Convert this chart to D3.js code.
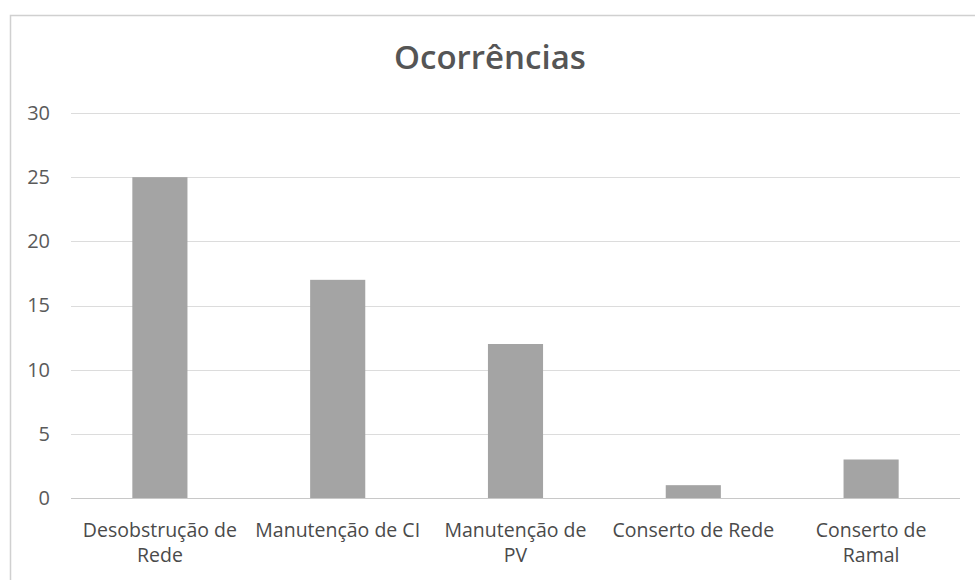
<!DOCTYPE html>
<html>
<head>
<meta charset="utf-8">
<script src="https://cdn.jsdelivr.net/npm/d3@7"></script>
<style>
  body { margin: 0; background: #fff; }
  text { font-family: "Open Sans", "Noto Sans", sans-serif; }
</style>
</head>
<body>
<div id="chart"></div>
<script>
// chart values
const categories = [
  ["Desobstrução de", "Rede"],
  ["Manutenção de CI"],
  ["Manutenção de", "PV"],
  ["Conserto de Rede"],
  ["Conserto de", "Ramal"]
];
const values = [25, 17, 12, 1, 3];
const yTicks = [0, 5, 10, 15, 20, 25, 30];
const title = "Ocorrências";

const width = 975, height = 580;
const margin = { top: 113, right: 15, bottom: 82, left: 71 };

const svg = d3.select("#chart").append("svg")
  .attr("width", width)
  .attr("height", height);

// frame of the chart area
svg.append("path")
  .attr("d", "M10.5," + height + "V15.5H" + width)
  .attr("fill", "none")
  .attr("stroke", "#d0d0d0")
  .attr("stroke-width", 1.5);

const g = svg.append("g")
  .attr("transform", "translate(" + margin.left + "," + margin.top + ")");

const w = width - margin.left - margin.right;
const h = height - margin.top - margin.bottom;

const x = d3.scaleBand()
  .domain(d3.range(categories.length))
  .range([0, w])
  .paddingInner(0.69)
  .paddingOuter(0.345);

const y = d3.scaleLinear()
  .domain([0, 30])
  .range([h, 0]);

// gridlines
g.selectAll(".grid")
  .data(yTicks)
  .enter().append("line")
  .attr("class", "grid")
  .attr("x1", 0)
  .attr("x2", w)
  .attr("y1", d => Math.round(y(d)) + 0.5)
  .attr("y2", d => Math.round(y(d)) + 0.5)
  .attr("stroke", d => d === 0 ? "#c8c8c8" : "#dcdcdc")
  .attr("stroke-width", 1.2);

// y labels
const yAxis = d3.axisLeft(y).tickValues(yTicks).tickSize(0).tickPadding(21);
g.append("g")
  .call(yAxis)
  .call(s => s.select(".domain").remove())
  .selectAll("text")
  .attr("fill", "#5a5a5a")
  .style("font-size", "20px");

// bars
g.selectAll(".bar")
  .data(values)
  .enter().append("rect")
  .attr("class", "bar")
  .attr("x", (d, i) => x(i))
  .attr("y", d => y(d))
  .attr("width", x.bandwidth())
  .attr("height", d => y(0) - y(d))
  .attr("fill", "#a4a4a4");

// category labels
const labels = g.selectAll(".cat")
  .data(categories)
  .enter().append("text")
  .attr("class", "cat")
  .attr("text-anchor", "middle")
  .attr("fill", "#4a4a4a")
  .style("font-size", "19.5px")
  .attr("transform", (d, i) => "translate(" + (x(i) + x.bandwidth() / 2) + "," + (h + 39) + ")");

labels.selectAll("tspan")
  .data(d => d)
  .enter().append("tspan")
  .attr("x", 0)
  .attr("dy", (d, i) => i === 0 ? 0 : 25)
  .text(d => d);

// title
svg.append("text")
  .attr("x", 490)
  .attr("y", 69)
  .attr("text-anchor", "middle")
  .attr("fill", "#555")
  .style("font-size", "33px")
  .style("font-weight", 600)
  .text(title);
</script>
</body>
</html>
